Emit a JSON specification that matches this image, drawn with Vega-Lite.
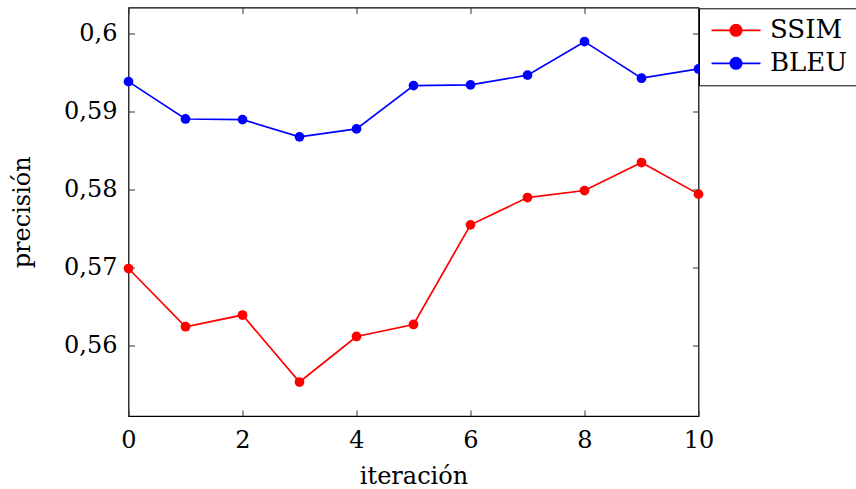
{
  "$schema": "https://vega.github.io/schema/vega-lite/v6.json",
  "width": 570,
  "height": 408.5,
  "autosize": "none",
  "padding": {"left": 128.5, "top": 7.5, "right": 157.5, "bottom": 73},
  "background": "white",
  "data": {
    "values": [
      {"iter": 0, "value": 0.56982, "series": "SSIM"},
      {"iter": 1, "value": 0.56235, "series": "SSIM"},
      {"iter": 2, "value": 0.56385, "series": "SSIM"},
      {"iter": 3, "value": 0.55526, "series": "SSIM"},
      {"iter": 4, "value": 0.5611, "series": "SSIM"},
      {"iter": 5, "value": 0.56264, "series": "SSIM"},
      {"iter": 6, "value": 0.57542, "series": "SSIM"},
      {"iter": 7, "value": 0.57892, "series": "SSIM"},
      {"iter": 8, "value": 0.57982, "series": "SSIM"},
      {"iter": 9, "value": 0.58341, "series": "SSIM"},
      {"iter": 10, "value": 0.57936, "series": "SSIM"},
      {"iter": 0, "value": 0.59379, "series": "BLEU"},
      {"iter": 1, "value": 0.589, "series": "BLEU"},
      {"iter": 2, "value": 0.58892, "series": "BLEU"},
      {"iter": 3, "value": 0.58671, "series": "BLEU"},
      {"iter": 4, "value": 0.58773, "series": "BLEU"},
      {"iter": 5, "value": 0.59328, "series": "BLEU"},
      {"iter": 6, "value": 0.59337, "series": "BLEU"},
      {"iter": 7, "value": 0.59462, "series": "BLEU"},
      {"iter": 8, "value": 0.59892, "series": "BLEU"},
      {"iter": 9, "value": 0.59423, "series": "BLEU"},
      {"iter": 10, "value": 0.59542, "series": "BLEU"}
    ]
  },
  "layer": [
    {
      "mark": {"type": "line", "strokeWidth": 1.7, "clip": false, "point": {"filled": true, "size": 95, "opacity": 1}},
      "encoding": {
        "x": {
          "field": "iter", "type": "quantitative",
          "scale": {"domain": [0, 10], "nice": false, "zero": false},
          "axis": {"orient": "bottom", "title": "iteración", "values": [0, 2, 4, 6, 8, 10], "labelFlush": false, "labelPadding": 12, "titlePadding": 12}
        },
        "y": {
          "field": "value", "type": "quantitative",
          "scale": {"domain": [0.5509, 0.6033], "nice": false, "zero": false},
          "axis": {"orient": "left", "title": "precisión", "values": [0.56, 0.57, 0.58, 0.59, 0.6], "labelExpr": "replace(format(datum.value, '.2~f'), '.', ',')", "labelFlush": false, "labelPadding": 11.5, "titlePadding": 29}
        },
        "color": {
          "field": "series", "type": "nominal",
          "scale": {"domain": ["SSIM", "BLEU"], "range": ["#ff0000", "#0000ff"]},
          "legend": {
            "title": null,
            "orient": "none",
            "legendX": 570.5,
            "legendY": 0.8,
            "symbolType": "M-2.5,0L2.5,0M-0.58,0A0.58,0.58,0,1,1,0.58,0A0.58,0.58,0,1,1,-0.58,0Z",
            "symbolSize": 384,
            "symbolOffset": 15,
            "labelOffset": 21,
            "symbolStrokeWidth": 1.7,
            "encode": {"symbols": {"update": {"fill": {"scale": "color", "field": "value"}, "stroke": {"scale": "color", "field": "value"}, "opacity": {"value": 1}}}}
          }
        }
      }
    },
    {
      "mark": {"type": "point", "opacity": 0},
      "encoding": {
        "x": {"field": "iter", "type": "quantitative", "axis": {"orient": "top", "labels": false, "title": null, "values": [0, 2, 4, 6, 8, 10]}},
        "y": {"field": "value", "type": "quantitative", "axis": {"orient": "right", "labels": false, "title": null, "values": [0.56, 0.57, 0.58, 0.59, 0.6]}}
      }
    }
  ],
  "resolve": {"axis": {"x": "independent", "y": "independent"}},
  "config": {
    "font": "DejaVu Serif",
    "view": {"stroke": "#000000", "strokeWidth": 1.2},
    "axis": {
      "domain": false,
      "grid": false,
      "ticks": true,
      "tickSize": 6,
      "offset": -6,
      "tickColor": "#333333",
      "tickWidth": 1,
      "labelFont": "DejaVu Serif",
      "labelFontSize": 24,
      "labelColor": "#000000",
      "titleFont": "DejaVu Serif",
      "titleFontSize": 24,
      "titleFontWeight": "normal",
      "titleColor": "#000000"
    },
    "legend": {
      "strokeColor": "#000000",
      "fillColor": "#ffffff",
      "padding": 9,
      "labelFont": "DejaVu Serif",
      "labelFontSize": 26,
      "labelColor": "#000000",
      "rowPadding": 7
    }
  }
}
